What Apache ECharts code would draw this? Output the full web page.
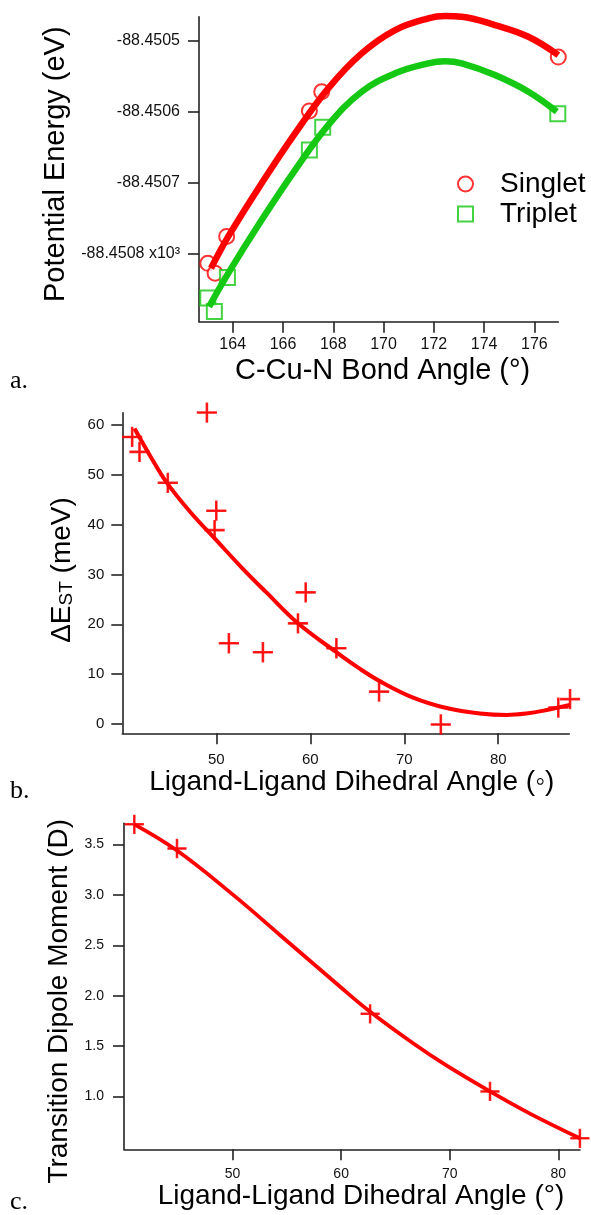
<!DOCTYPE html>
<html>
<head>
<meta charset="utf-8">
<script src="https://cdn.jsdelivr.net/npm/echarts@6.0.0/dist/echarts.min.js"></script>
<style>
  html, body { margin: 0; padding: 0; background: #fff; }
  #main { width: 591px; height: 1215px; }
</style>
</head>
<body>
<div id="main"></div>
<script>
// panel a: potential energy vs bond angle (x10^3 eV)
var singletAngle = [163.01, 163.30, 163.76, 167.05, 167.54, 176.95];
var singletEnergy = [-88.450814, -88.450828, -88.450776, -88.450599, -88.450572, -88.450523];
var tripletAngle = [163.01, 163.27, 163.79, 167.05, 167.58, 176.93];
var tripletEnergy = [-88.450863, -88.450882, -88.450834, -88.450654, -88.450622, -88.450603];
var singletFitAngle = [163.14, 163.82, 165.15, 166.48, 167.80, 169.13, 170.46, 171.78, 172.45, 173.11, 174.43, 175.76, 176.95];
var singletFitEnergy = [-88.4508210, -88.4507764, -88.4507011, -88.4506306, -88.4505671, -88.4505178, -88.4504849,
    -88.4504684, -88.4504652, -88.4504661, -88.4504779, -88.4504944, -88.4505202];
var tripletFitAngle = [163.06, 163.82, 165.15, 166.48, 167.80, 169.13, 170.46, 171.78, 172.45, 173.11, 174.43, 175.76, 176.89];
var tripletFitEnergy = [-88.4508752, -88.4508281, -88.4507529, -88.4506824, -88.4506189, -88.4505719, -88.4505460,
    -88.4505319, -88.4505290, -88.4505319, -88.4505484, -88.4505719, -88.4506000];
var ticksAx = [164, 166, 168, 170, 172, 174, 176];
var ticksAy = [-88.4508, -88.4507, -88.4506, -88.4505];

// panel b: singlet-triplet gap vs dihedral angle
var dihedralB = [41.05, 41.83, 44.84, 49.0, 50.0, 49.82, 51.34, 54.96, 58.69, 59.51, 62.78, 67.32, 73.89, 86.39, 87.64];
var deltaEst = [57.6, 54.6, 48.4, 62.5, 42.8, 38.9, 16.2, 14.4, 20.2, 26.4, 15.2, 6.5, -0.1, 3.3, 5.0];
var fitAngleB = [41.3, 43, 44.67, 47.3, 50, 52.7, 55.33, 58.69, 62.78, 65.1, 67.4, 70.94, 74.5, 78.05, 80.9, 83, 85.16, 87.6];
var fitEstB = [59.3, 53.7, 48.6, 42.4, 36.9, 31.4, 26.4, 20.2, 14.4, 11.3, 8.6, 5.3, 3.2, 2.1, 1.8, 2.1, 2.8, 3.8];
var ticksBx = [50, 60, 70, 80];
var ticksBy = [0, 10, 20, 30, 40, 50, 60];

// panel c: transition dipole moment vs dihedral angle
var dihedralC = [40.95, 44.88, 62.67, 73.71, 81.99];
var dipole = [3.70, 3.46, 1.82, 1.05, 0.585];
var fitAngleC = [40.95, 44.88, 50, 54.39, 59.91, 62.67, 66.66, 69.73, 73.71, 77.39, 81.99];
var fitDipoleC = [3.70, 3.44, 3.005, 2.60, 2.088, 1.84, 1.525, 1.305, 1.05, 0.83, 0.585];
var ticksCx = [50, 60, 70, 80];
var ticksCy = [1.0, 1.5, 2.0, 2.5, 3.0, 3.5];

var FONT = 'Liberation Sans';
var RED = '#ff0000';
var GREEN = '#14c814';
var PLUS = 'path://M0,9.3H20V10.7H0Z M9.3,0H10.7V20H9.3Z';

function zip(xs, ys) {
    var out = [];
    for (var i = 0; i < xs.length; i++) out.push([xs[i], ys[i]]);
    return out;
}

function axis(grid, min, max, ticks, labelSize, labelMargin, name, nameSize, nameGap, namePad, formatter) {
    return {
        type: 'value',
        gridIndex: grid,
        min: min,
        max: max,
        name: name,
        nameLocation: 'middle',
        nameGap: nameGap,
        nameTextStyle: {
            fontFamily: FONT, fontSize: nameSize, color: '#000', padding: namePad,
            rich: { s: { fontFamily: FONT, fontSize: 19, color: '#000', verticalAlign: 'bottom' } }
        },
        splitLine: { show: false },
        axisLine: { onZero: false, lineStyle: { color: '#222', width: 1.6 } },
        axisTick: { customValues: ticks, length: 11, lineStyle: { color: '#222', width: 1.6 } },
        axisLabel: {
            customValues: ticks, margin: labelMargin, fontFamily: FONT,
            fontSize: labelSize, color: '#111', formatter: formatter
        }
    };
}

function fitLine(name, grid, data, color, width) {
    return {
        name: name, type: 'line', xAxisIndex: grid, yAxisIndex: grid,
        data: data, smooth: 0.4, showSymbol: false, symbol: 'none', clip: false,
        lineStyle: { color: color, width: width }, silent: true
    };
}

function points(name, grid, data, symbol, size, color) {
    return {
        name: name, type: 'scatter', xAxisIndex: grid, yAxisIndex: grid,
        data: data, symbol: symbol, symbolSize: size, clip: false,
        itemStyle: { color: color, borderColor: color, borderWidth: 1.3 }
    };
}

function energyLabel(v) {
    var s = v.toFixed(4);
    return v < -88.45075 ? s + ' x10³' : s;
}

var chart = echarts.init(document.getElementById('main'), null, { renderer: 'canvas' });
chart.setOption({
    backgroundColor: '#fff',
    animation: false,
    grid: [
        { left: 199, top: 16.7, width: 359.3, height: 305 },
        { left: 122.3, top: 412.7, width: 447, height: 320.6 },
        { left: 124, top: 823.3, width: 456, height: 326 }
    ],
    xAxis: [
        axis(0, 162.66, 176.95, ticksAx, 16, 15, 'C-Cu-N Bond Angle (°)', 29, 35, [0, 0, 0, 8]),
        axis(1, 40, 87.56, ticksBx, 15, 19, 'Ligand-Ligand Dihedral Angle (◦)', 28, 34, [0, 0, 0, 12]),
        axis(2, 40, 82.0, ticksCx, 14, 18, 'Ligand-Ligand Dihedral Angle (°)', 28, 29, [0, 0, 0, 18])
    ],
    yAxis: [
        axis(0, -88.4508963, -88.4504661, ticksAy, 16, 19, 'Potential Energy (eV)', 29, 128, [0, 0, 0, 10], energyLabel),
        axis(1, -1.87, 62.47, ticksBy, 15, 18, 'ΔE{s|ST} (meV)', 28, 43, [0, 0, 0, 6]),
        axis(2, 0.476, 3.71, ticksCy, 14, 20, 'Transition Dipole Moment (D)', 28, 50, [0, 30, 0, 0],
            function (v) { return v.toFixed(1); })
    ],
    legend: {
        orient: 'vertical',
        left: 457,
        top: 170,
        padding: 0,
        itemGap: 2,
        itemWidth: 15,
        itemHeight: 15,
        selectedMode: false,
        textStyle: { fontFamily: FONT, fontSize: 28, color: '#000', padding: [0, 0, 0, 22] },
        data: [
            { name: 'Singlet', icon: 'emptyCircle' },
            { name: 'Triplet', icon: 'emptyRect' }
        ]
    },
    graphic: [
        { type: 'text', left: 10, top: 368, style: { text: 'a.', fontFamily: 'Liberation Serif', fontSize: 26, fill: '#000' } },
        { type: 'text', left: 10, top: 778, style: { text: 'b.', fontFamily: 'Liberation Serif', fontSize: 26, fill: '#000' } },
        { type: 'text', left: 10, top: 1189, style: { text: 'c.', fontFamily: 'Liberation Serif', fontSize: 26, fill: '#000' } }
    ],
    series: [
        fitLine('Singlet fit', 0, zip(singletFitAngle, singletFitEnergy), RED, 6.5),
        fitLine('Triplet fit', 0, zip(tripletFitAngle, tripletFitEnergy), GREEN, 6.5),
        points('Singlet', 0, zip(singletAngle, singletEnergy), 'emptyCircle', 15, RED),
        points('Triplet', 0, zip(tripletAngle, tripletEnergy), 'emptyRect', 15, GREEN),
        fitLine('Gap fit', 1, zip(fitAngleB, fitEstB), RED, 4),
        points('Gap', 1, zip(dihedralB, deltaEst), PLUS, 19, RED),
        fitLine('Dipole fit', 2, zip(fitAngleC, fitDipoleC), RED, 3.8),
        points('Dipole', 2, zip(dihedralC, dipole), PLUS, 18, RED)
    ]
});
</script>
</body>
</html>
